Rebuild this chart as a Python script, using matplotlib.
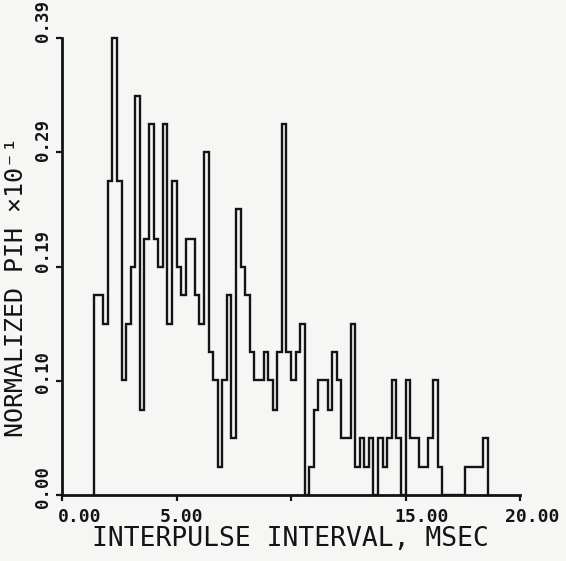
import matplotlib
matplotlib.use("Agg")
import matplotlib.pyplot as plt
import numpy as np
from matplotlib.transforms import ScaledTranslation

# ---- data ----
bin_start = 1.4      # ms, left edge of first bin
bin_width = 0.2      # ms
pih = [
    0.171, 0.171, 0.146, 0.268, 0.390, 0.268, 0.098, 0.146, 0.195, 0.341,
    0.073, 0.219, 0.317, 0.219, 0.195, 0.317, 0.146, 0.268, 0.195, 0.171,
    0.219, 0.219, 0.171, 0.146, 0.293, 0.122, 0.098, 0.024, 0.098, 0.171,
    0.049, 0.244, 0.195, 0.171, 0.122, 0.098, 0.098, 0.122, 0.098, 0.073,
    0.122, 0.317, 0.122, 0.098, 0.122, 0.146, 0.000, 0.024, 0.073, 0.098,
    0.098, 0.073, 0.122, 0.098, 0.049, 0.049, 0.146, 0.024, 0.049, 0.024,
    0.049, 0.000, 0.049, 0.024, 0.049, 0.098, 0.049, 0.000, 0.098, 0.049,
    0.049, 0.024, 0.024, 0.049, 0.098, 0.024, 0.000, 0.000, 0.000, 0.000,
    0.000, 0.024, 0.024, 0.024, 0.024, 0.049,
]
x_ticks = [0, 5, 10, 15, 20]
x_tick_labels = ["0.00", "5.00", "", "15.00", "20.00"]
y_ticks = [0.0, 0.0975, 0.195, 0.2925, 0.39]
y_tick_labels = ["0.00", "0.10", "0.19", "0.29", "0.39"]
x_label = "INTERPULSE INTERVAL, MSEC"
y_label = "NORMALIZED PIH \u00d710\u207b\u00b9"

edges = bin_start + bin_width * np.arange(len(pih) + 1)

W, H = 566, 561
bg = "#f6f6f4"
ink = "#141414"
mono = "DejaVu Sans Mono"

fig = plt.figure(figsize=(W / 100, H / 100), dpi=100, facecolor=bg)
ax = fig.add_axes([62 / W, 1 - 495 / H, 458 / W, (495 - 38.3) / H], facecolor=bg)

ax.stairs(pih, edges, baseline=0, color=ink, lw=1.7, clip_on=False)

ax.set_xlim(0, 20)
ax.set_ylim(0, 0.39)
for s in ("top", "right"):
    ax.spines[s].set_visible(False)
for s in ("left", "bottom"):
    ax.spines[s].set_linewidth(2.0)
    ax.spines[s].set_color(ink)

ax.set_xticks(x_ticks)
ax.set_xticklabels(x_tick_labels, fontfamily=mono, fontweight="bold", fontsize=13, color=ink)
ax.set_yticks(y_ticks)
ax.set_yticklabels(y_tick_labels, fontfamily=mono, fontweight="bold", fontsize=12.5,
                   rotation=90, va="center", color=ink)
ax.tick_params(axis="both", direction="out", length=4, width=1.6, color=ink)
ax.tick_params(axis="x", pad=5)
ax.tick_params(axis="y", pad=3)

# small label offsets as in the plotter output (pixels)
x_dx = [18, 5, 0, 16, 12]
for lab, dx in zip(ax.get_xticklabels(), x_dx):
    lab.set_transform(lab.get_transform() + ScaledTranslation(dx / 100, 0, fig.dpi_scale_trans))
y_dy = [8, 9, 16, 12, 17]
for lab, dy in zip(ax.get_yticklabels(), y_dy):
    lab.set_transform(lab.get_transform() + ScaledTranslation(0, dy / 100, fig.dpi_scale_trans))

fig.text(290 / W, 1 - 539 / H, x_label, fontfamily=mono, fontsize=19,
         ha="center", va="center", color=ink)
fig.text(16 / W, 1 - 437 / H, y_label, fontfamily=mono, fontsize=18,
         rotation=90, ha="center", va="bottom", color=ink)

fig.savefig("out.png", dpi=100, facecolor=bg)
